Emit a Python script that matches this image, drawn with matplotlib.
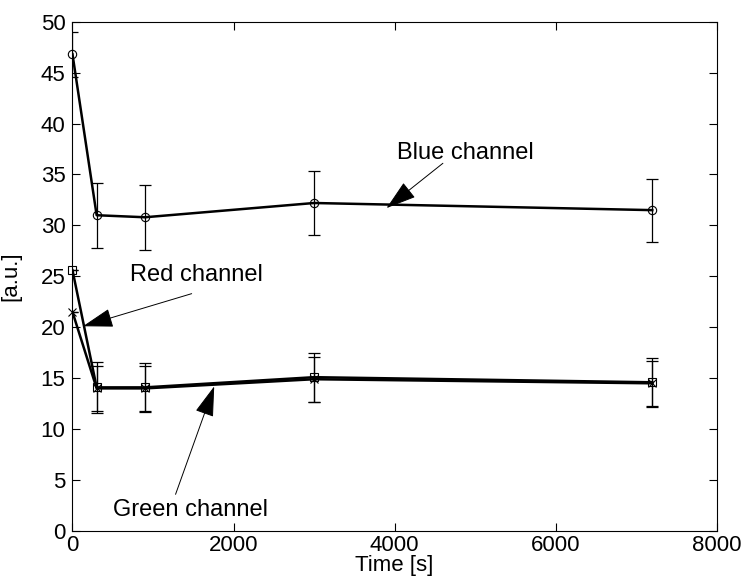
import matplotlib
matplotlib.use('Agg')
import matplotlib.pyplot as plt

plt.rcParams['font.family'] = ['Liberation Sans', 'DejaVu Sans']

# measurement times [s]
time_s = [0, 300, 900, 3000, 7200]

# channel means [a.u.] and error bars
blue = [46.8, 31.0, 30.8, 32.2, 31.5]
blue_err = [2.2, 3.2, 3.2, 3.1, 3.1]
red = [25.6, 14.1, 14.1, 15.1, 14.6]
red_err = [0, 2.5, 2.4, 2.4, 2.4]
green = [21.5, 14.0, 14.0, 14.9, 14.5]
green_err = [0, 2.2, 2.2, 2.2, 2.2]

fig = plt.figure(figsize=(7.45, 5.83), dpi=100)
ax = fig.add_axes([0.0973, 0.0892, 0.8647, 0.8736])

for vals, errs, mk in [(blue, blue_err, 'o'), (red, red_err, 's'), (green, green_err, 'x')]:
    ax.errorbar(time_s, vals, yerr=errs, fmt='none', ecolor='k', elinewidth=0.9,
                capsize=4.6, capthick=0.9, zorder=2)
    ax.plot(time_s, vals, color='k', lw=1.8, zorder=3)
    ax.plot(time_s, vals, linestyle='none', marker=mk, mfc='none', mec='k',
            ms=6, mew=0.8, zorder=4, clip_on=False)

arrow = dict(arrowstyle='-|>,head_length=0.8,head_width=0.25', color='k', lw=0.7,
             mutation_scale=24, shrinkA=0, shrinkB=0)
fs = 17
ax.annotate('', xy=(3900, 31.7), xytext=(4600, 36.1), arrowprops=arrow)
ax.text(4030, 37.1, 'Blue channel', fontsize=fs, va='center', ha='left')
ax.annotate('', xy=(130, 20.1), xytext=(1480, 23.3), arrowprops=arrow)
ax.text(714, 25.1, 'Red channel', fontsize=fs, va='center', ha='left')
ax.annotate('', xy=(1760, 14.2), xytext=(1280, 3.6), arrowprops=arrow)
ax.text(500, 2.1, 'Green channel', fontsize=fs, va='center', ha='left')

ax.set_xlim(0, 8000)
ax.set_ylim(0, 50)
ax.set_xticks([0, 2000, 4000, 6000, 8000])
ax.set_yticks(range(0, 51, 5))
ax.tick_params(direction='in', length=6, width=0.8, top=True, right=True,
               labelsize=16)
ax.tick_params(axis='x', pad=3)
ax.tick_params(axis='y', pad=5)
for s in ax.spines.values():
    s.set_linewidth(0.8)
ax.set_xlabel('Time [s]', fontsize=16, labelpad=-1)
ax.set_ylabel('[a.u.]', fontsize=16)
ax.yaxis.set_label_coords(-0.08, 0.5)

fig.savefig('out.png', dpi=100)
